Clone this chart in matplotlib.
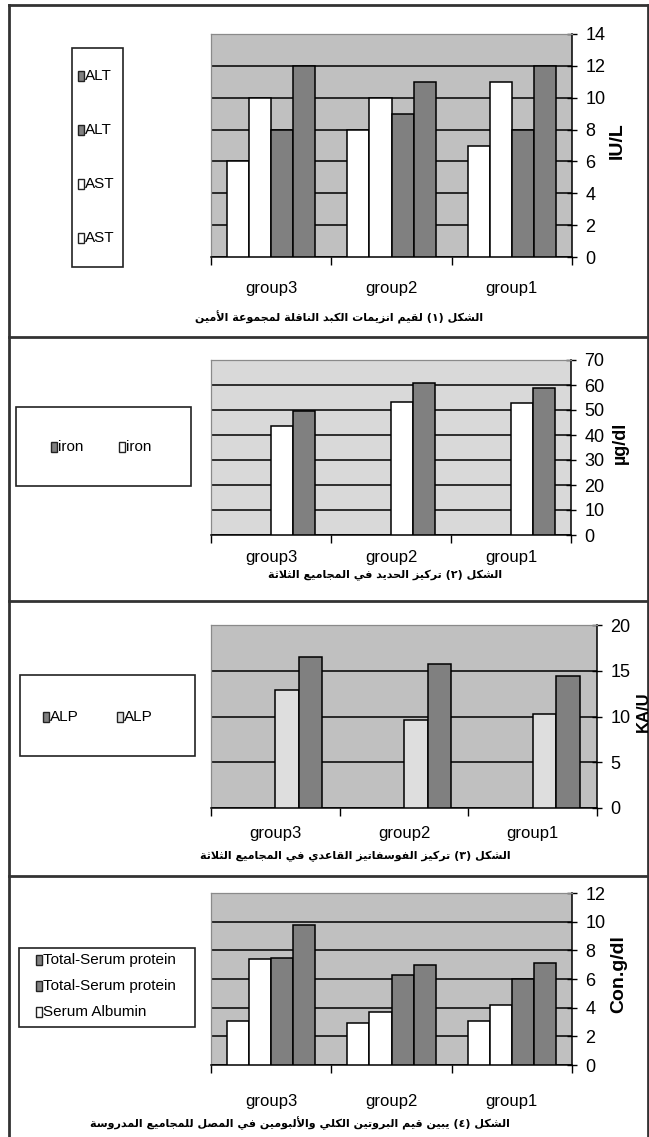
import matplotlib
matplotlib.use('Agg')
import matplotlib.pyplot as plt
from matplotlib.patches import Rectangle
from matplotlib.lines import Line2D
import numpy as np

W, H = 649, 1137

groups = ['group3', 'group2', 'group1']

# الشكل 1: ALT / AST (IU/L)
ast_a = [6, 8, 7]
ast_b = [10, 10, 11]
alt_a = [8, 9, 8]
alt_b = [12, 11, 12]

# الشكل 2: iron (µg/dl)
iron_white = [43.7, 53.3, 52.7]
iron_dark = [49.6, 60.9, 58.9]

# الشكل 3: ALP (KA/U)
alp_light = [12.9, 9.6, 10.3]
alp_dark = [16.5, 15.7, 14.4]

# الشكل 4: protein / albumin (g/dl)
albumin_a = [3.1, 2.9, 3.1]
albumin_b = [7.4, 3.7, 4.2]
protein_a = [7.5, 6.3, 6.0]
protein_b = [9.8, 7.0, 7.1]

captions = [
    'الشكل (١) لقيم انزيمات الكبد الناقلة لمجموعة الأمين',
    'الشكل (٢) تركيز الحديد في المجاميع الثلاثة',
    'الشكل (٣) تركيز الفوسفاتيز القاعدي في المجاميع الثلاثة',
    'الشكل (٤) يبين قيم البروتين الكلي والألبومين في المصل للمجاميع المدروسة',
]

DARK = '#808080'
WHITE = '#ffffff'
LIGHT = '#dedede'
SANS = ['Liberation Sans', 'DejaVu Sans']

# --- simple arabic shaping (presentation forms) + right-to-left order ---
FORMS = {
    'ا': (0xFE8D, False), 'أ': (0xFE83, False), 'إ': (0xFE87, False), 'آ': (0xFE81, False),
    'ب': (0xFE8F, True), 'ة': (0xFE93, False), 'ت': (0xFE95, True), 'ث': (0xFE99, True),
    'ج': (0xFE9D, True), 'ح': (0xFEA1, True), 'خ': (0xFEA5, True), 'د': (0xFEA9, False),
    'ذ': (0xFEAB, False), 'ر': (0xFEAD, False), 'ز': (0xFEAF, False), 'س': (0xFEB1, True),
    'ش': (0xFEB5, True), 'ص': (0xFEB9, True), 'ض': (0xFEBD, True), 'ط': (0xFEC1, True),
    'ظ': (0xFEC5, True), 'ع': (0xFEC9, True), 'غ': (0xFECD, True), 'ف': (0xFED1, True),
    'ق': (0xFED5, True), 'ك': (0xFED9, True), 'ل': (0xFEDD, True), 'م': (0xFEE1, True),
    'ن': (0xFEE5, True), 'ه': (0xFEE9, True), 'و': (0xFEED, False), 'ى': (0xFEEF, False),
    'ي': (0xFEF1, True),
}
LAM_ALEF = {'ا': 0xFEFB, 'أ': 0xFEF7, 'إ': 0xFEF9, 'آ': 0xFEF5}


def shape(text):
    tokens = []
    i = 0
    while i < len(text):
        if text[i] == 'ل' and i + 1 < len(text) and text[i + 1] in LAM_ALEF:
            tokens.append((LAM_ALEF[text[i + 1]], False))
            i += 2
        else:
            tokens.append(FORMS.get(text[i], text[i]))
            i += 1
    out = []
    for k, t in enumerate(tokens):
        if isinstance(t, str):
            out.append(t)
            continue
        base, dual = t
        prev = tokens[k - 1] if k > 0 else None
        nxt = tokens[k + 1] if k + 1 < len(tokens) else None
        jp = isinstance(prev, tuple) and prev[1]
        jn = dual and isinstance(nxt, tuple)
        if jp and jn:
            code = base + 3
        elif jp:
            code = base + 1
        elif jn:
            code = base + 2
        else:
            code = base
        out.append(chr(code))
    vis = ''.join(reversed(out))
    return vis.translate(str.maketrans('()', ')('))


def fx(x):
    return x / W


def fy(y):
    return 1 - y / H


fig = plt.figure(figsize=(W / 100, H / 100), dpi=100)
fig.patch.set_facecolor('white')


def panel(box, series, colors, slots, ymax, step, bg, ylabel, ylab_x, ylab_size, xpad):
    x0, y0, x1, y1 = box
    ax = fig.add_axes([fx(x0), fy(y1), fx(x1) - fx(x0), fy(y0) - fy(y1)])
    ax.set_facecolor(bg)
    x = np.arange(len(groups))
    w = 0.183
    for vals, col, s in zip(series, colors, slots):
        ax.bar(x + (s - 1.5) * w, vals, w, color=col, edgecolor='black', lw=1.1, zorder=3)
    ax.set_xlim(-0.5, 2.5)
    ax.set_ylim(0, ymax)
    ticks = np.arange(0, ymax + step / 2, step)
    ax.set_yticks(ticks)
    ax.set_yticklabels([f'{t:g}' for t in ticks], family=SANS, fontsize=13)
    ax.yaxis.tick_right()
    ax.tick_params(axis='y', direction='inout', length=7, width=1, pad=6, colors='black')
    ax.set_xticks(x)
    ax.set_xticklabels(groups, family=SANS, fontsize=12)
    ax.tick_params(axis='x', length=0, pad=xpad)
    ax.set_xticks([-0.5, 0.5, 1.5, 2.5], minor=True)
    ax.tick_params(axis='x', which='minor', direction='out', length=6, width=1, color='black')
    ax.yaxis.grid(True, color='black', lw=1.1, zorder=1)
    ax.set_axisbelow(True)
    ax.get_ygridlines()[-1].set_visible(False)
    for side in ('left', 'top'):
        ax.spines[side].set_color('#8a8a8a')
        ax.spines[side].set_linewidth(0.9)
    ax.spines['right'].set_color('black')
    ax.spines['bottom'].set_color('black')
    ax.spines['right'].set_linewidth(1.1)
    ax.spines['bottom'].set_linewidth(1.1)
    fig.text(fx(ylab_x), fy((y0 + y1) / 2 - 5), ylabel, rotation=90, ha='center', va='center',
             fontsize=ylab_size, fontweight='bold', family=SANS)
    return ax


def legend_box(x0, y0, x1, y1):
    fig.add_artist(Rectangle((fx(x0), fy(y1)), fx(x1) - fx(x0), fy(y0) - fy(y1),
                             transform=fig.transFigure, facecolor='white',
                             edgecolor='#222222', lw=1.2))


def legend_key(x, y, color, label, size=11):
    fig.add_artist(Rectangle((fx(x), fy(y + 5)), fx(6), 10 / H, transform=fig.transFigure,
                             facecolor=color, edgecolor='#222222', lw=1))
    fig.text(fx(x + 7), fy(y), label, ha='left', va='center', fontsize=size, family=SANS)


# panel 1
panel((211, 34, 572, 257), [ast_a, ast_b, alt_a, alt_b], [WHITE, WHITE, DARK, DARK],
      [0, 1, 2, 3], 14, 2, '#c0c0c0', 'IU/L', 617, 14, 17)
legend_box(72, 48, 123, 267)
legend_key(78, 76, DARK, 'ALT')
legend_key(78, 130, DARK, 'ALT')
legend_key(78, 184, WHITE, 'AST')
legend_key(78, 238, WHITE, 'AST')

# panel 2
panel((211, 360, 571, 535), [iron_white, iron_dark], [WHITE, DARK],
      [2, 3], 70, 10, '#d9d9d9', 'µg/dl', 620, 13, 11)
legend_box(16, 407, 191, 486)
legend_key(51, 447, DARK, 'iron')
legend_key(119, 447, WHITE, 'iron')

# panel 3
panel((211, 625, 597, 808), [alp_light, alp_dark], [LIGHT, DARK],
      [2, 3], 20, 5, '#c0c0c0', 'KA/U', 643, 12, 13)
legend_box(20, 675, 195, 756)
legend_key(43, 717, DARK, 'ALP')
legend_key(117, 717, LIGHT, 'ALP')

# panel 4
panel((211, 893, 572, 1065), [albumin_a, albumin_b, protein_a, protein_b],
      [WHITE, WHITE, DARK, DARK], [0, 1, 2, 3], 12, 2, '#c0c0c0', 'Con.g/dl', 619, 14, 21)
legend_box(19, 948, 195, 1027)
legend_key(36, 960, DARK, 'Total-Serum protein')
legend_key(36, 986, DARK, 'Total-Serum protein')
legend_key(36, 1012, WHITE, 'Serum Albumin')

# figure captions
for cap, (cx, cy) in zip(captions, [(339, 317), (385, 575), (355, 856), (300, 1123)]):
    fig.text(fx(cx), fy(cy), shape(cap), ha='center', va='center', fontsize=8,
             fontweight='bold', family='DejaVu Sans')

# frame around the four figures
frame = dict(color='#333333', lw=2, transform=fig.transFigure)
fig.add_artist(Line2D([fx(9), fx(649)], [fy(5), fy(5)], **frame))
fig.add_artist(Line2D([fx(9), fx(9)], [fy(5), fy(1137)], **frame))
fig.add_artist(Line2D([fx(647.5), fx(647.5)], [fy(5), fy(1137)], **frame))
for sep in (337, 601, 876):
    fig.add_artist(Line2D([fx(9), fx(649)], [fy(sep), fy(sep)], **frame))

fig.savefig('out.png', dpi=100)
